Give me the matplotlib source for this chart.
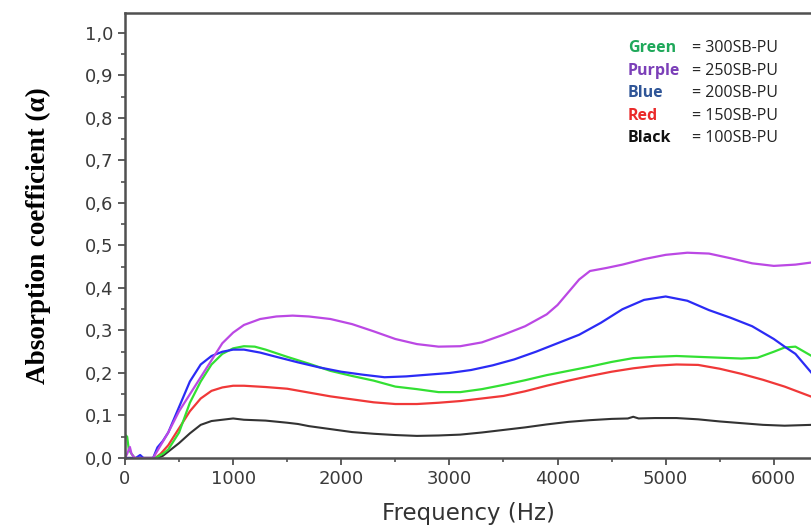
import matplotlib.pyplot as plt
from matplotlib.ticker import MultipleLocator, FuncFormatter

# --- valeurs (Hz, alpha) ---
f_purple = [0, 20, 45, 60, 90, 260, 330, 400, 500, 600, 700, 800, 900, 1000, 1100, 1250, 1400, 1550,
            1700, 1900, 2100, 2300, 2500, 2700, 2900, 3100, 3300, 3500, 3700, 3900, 4000, 4100, 4200,
            4300, 4450, 4600, 4800, 5000, 5200, 5400, 5600, 5800, 6000, 6200, 6350]
a_purple = [0, 0.01, 0.026, 0.01, 0, 0, 0.03, 0.06, 0.11, 0.15, 0.19, 0.23, 0.27, 0.295, 0.313, 0.327,
            0.333, 0.335, 0.333, 0.327, 0.315, 0.298, 0.28, 0.268, 0.262, 0.263, 0.272, 0.29, 0.31,
            0.338, 0.36, 0.39, 0.42, 0.44, 0.447, 0.455, 0.468, 0.478, 0.483, 0.481, 0.47, 0.458,
            0.452, 0.455, 0.46]

f_blue = [0, 100, 140, 170, 260, 300, 350, 400, 500, 600, 700, 800, 900, 1000, 1100, 1250, 1400, 1600,
          1800, 2000, 2200, 2400, 2600, 2800, 3000, 3200, 3400, 3600, 3800, 4000, 4200, 4400, 4600,
          4800, 5000, 5200, 5400, 5600, 5800, 6000, 6100, 6200, 6350]
a_blue = [0, 0, 0.007, 0, 0, 0.025, 0.04, 0.06, 0.12, 0.18, 0.22, 0.24, 0.25, 0.255, 0.255, 0.248,
          0.238, 0.225, 0.213, 0.203, 0.196, 0.19, 0.192, 0.196, 0.2, 0.207, 0.218, 0.232, 0.25, 0.27,
          0.29, 0.318, 0.35, 0.372, 0.38, 0.37, 0.348, 0.33, 0.31, 0.28, 0.262, 0.245, 0.2]

f_green = [0, 20, 35, 60, 90, 280, 350, 400, 500, 600, 700, 800, 900, 1000, 1100, 1200, 1300, 1500,
           1700, 1900, 2100, 2300, 2500, 2700, 2900, 3100, 3300, 3500, 3700, 3900, 4100, 4300, 4500,
           4700, 4900, 5100, 5300, 5500, 5700, 5850, 6000, 6100, 6200, 6350]
a_green = [0.055, 0.05, 0.02, 0.01, 0, 0, 0.01, 0.02, 0.06, 0.13, 0.18, 0.22, 0.245, 0.258, 0.263,
           0.262, 0.255, 0.238, 0.222, 0.205, 0.193, 0.182, 0.168, 0.162, 0.155, 0.155, 0.162, 0.172,
           0.183, 0.195, 0.205, 0.215, 0.226, 0.235, 0.238, 0.24, 0.238, 0.236, 0.234, 0.236, 0.25,
           0.26, 0.262, 0.24]

f_red = [0, 280, 330, 400, 500, 600, 700, 800, 900, 1000, 1100, 1300, 1500, 1700, 1900, 2100, 2300,
         2500, 2700, 2900, 3100, 3300, 3500, 3700, 3900, 4100, 4300, 4500, 4700, 4900, 5100, 5300,
         5500, 5700, 5900, 6100, 6350]
a_red = [0, 0, 0.01, 0.03, 0.07, 0.11, 0.14, 0.158, 0.166, 0.17, 0.17, 0.167, 0.163, 0.154, 0.145,
         0.138, 0.131, 0.127, 0.127, 0.13, 0.134, 0.14, 0.146, 0.157, 0.17, 0.182, 0.193, 0.203,
         0.211, 0.217, 0.22, 0.219, 0.21, 0.198, 0.184, 0.168, 0.144]

f_black = [0, 300, 350, 400, 500, 600, 700, 800, 900, 1000, 1100, 1300, 1500, 1600, 1700, 1900, 2100,
           2300, 2500, 2700, 2900, 3100, 3300, 3500, 3700, 3900, 4100, 4300, 4500, 4650, 4700, 4750,
           4900, 5100, 5300, 5500, 5700, 5900, 6100, 6350]
a_black = [0, 0, 0.005, 0.015, 0.035, 0.058, 0.078, 0.087, 0.09, 0.093, 0.09, 0.088, 0.083, 0.08,
           0.075, 0.068, 0.061, 0.057, 0.054, 0.052, 0.053, 0.055, 0.06, 0.066, 0.072, 0.079, 0.085,
           0.089, 0.092, 0.093, 0.097, 0.093, 0.094, 0.094, 0.091, 0.086, 0.082, 0.078, 0.076, 0.078]

noms = ["Green", "Purple", "Blue", "Red", "Black"]
echantillons = ["= 300SB-PU", "= 250SB-PU", "= 200SB-PU", "= 150SB-PU", "= 100SB-PU"]
couleurs_texte = ["#1fa85a", "#7b3fb8", "#2f5597", "#ea2a2a", "#111111"]

gris = "#505050"

fig = plt.figure(figsize=(8.11, 5.31), dpi=100)
ax = fig.add_axes([125 / 811, 73 / 531, 686 / 811, 445 / 531])

ax.plot(f_black, a_black, color="#333333", lw=1.5)
ax.plot(f_red, a_red, color="#f03838", lw=1.6)
ax.plot(f_green, a_green, color="#33e033", lw=1.6)
ax.plot(f_blue, a_blue, color="#2b2bf5", lw=1.6)
ax.plot(f_purple, a_purple, color="#bb48e4", lw=1.6)

ax.set_xlim(0, 6344)
ax.set_ylim(0, 1.047)

ax.xaxis.set_major_locator(MultipleLocator(1000))
ax.xaxis.set_minor_locator(MultipleLocator(500))
ax.yaxis.set_major_locator(MultipleLocator(0.1))
ax.yaxis.set_minor_locator(MultipleLocator(0.05))
ax.yaxis.set_major_formatter(FuncFormatter(lambda v, p: f"{v:.1f}".replace(".", ",")))

ax.tick_params(which="major", direction="out", length=5, width=1.3, color=gris,
               labelsize=13, labelcolor="#3a3a3a")
ax.tick_params(which="minor", direction="out", length=3, width=1.2, color=gris)
for s in ["left", "bottom", "top"]:
    ax.spines[s].set_color(gris)
    ax.spines[s].set_linewidth(1.8)
ax.spines["right"].set_visible(False)

ax.set_xlabel("Frequency (Hz)", fontsize=16.5, color="#333333", labelpad=10)
ax.set_ylabel("Absorption coefficient (α)", fontsize=19.5, fontweight="bold",
              family="Liberation Serif", labelpad=24)

# légende écrite à la main comme sur l'original
y0 = 48
for i in range(len(noms)):
    fig.text(628 / 811, 1 - (y0 + i * 22.6) / 531, noms[i], color=couleurs_texte[i],
             fontsize=11.5, fontweight="bold", family="Open Sans", va="center")
    fig.text(692 / 811, 1 - (y0 + i * 22.6) / 531, echantillons[i], color="#222222",
             fontsize=11.5, family="Open Sans", va="center")

fig.savefig("out.png", dpi=100)
